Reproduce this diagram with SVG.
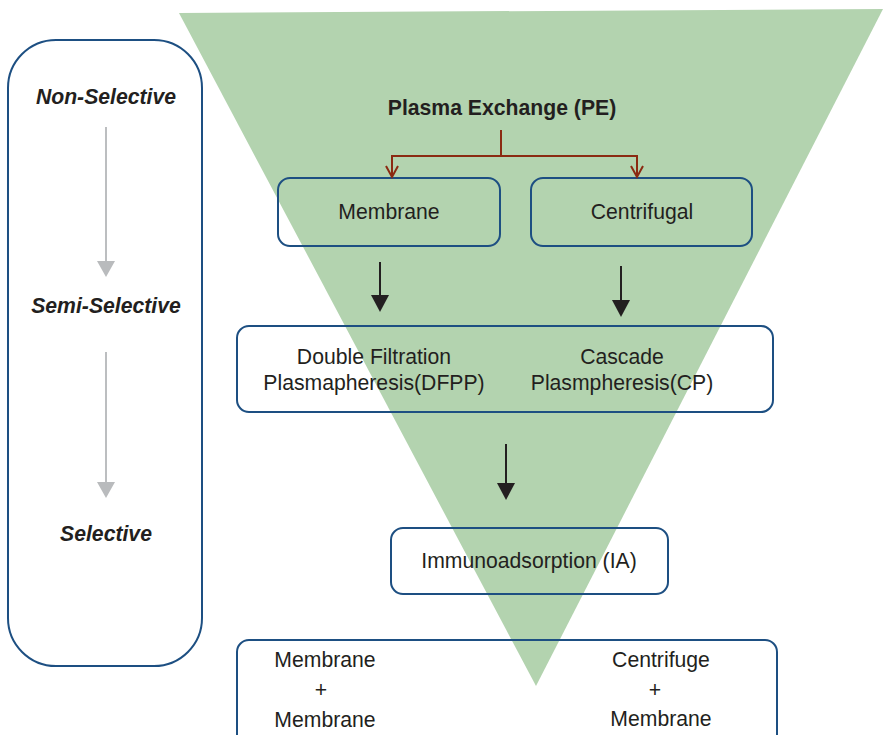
<svg xmlns="http://www.w3.org/2000/svg" width="883" height="735" viewBox="0 0 883 735">
  <defs>
    <style>
      .box { fill: none; stroke: #1d4f82; stroke-width: 2; }
      .lbl { font-family: "Liberation Sans", Arial, sans-serif; font-size: 21.2px; fill: #231f20; text-anchor: middle; }
      .lvl { font-family: "Liberation Sans", Arial, sans-serif; font-size: 21.2px; font-weight: bold; font-style: italic; fill: #231f20; text-anchor: middle; }
      .title { font-family: "Liberation Sans", Arial, sans-serif; font-size: 21.2px; font-weight: bold; fill: #231f20; text-anchor: middle; }
      .blk { stroke: #231f20; stroke-width: 2; fill: none; }
      .gry { stroke: #bcbec0; stroke-width: 2; fill: none; }
      .red { stroke: #8b2a12; stroke-width: 2; fill: none; }
    </style>
  </defs>

  <!-- selectivity funnel -->
  <polygon points="179,13 883,9 536,686" fill="#b3d3af"/>

  <!-- selectivity scale -->
  <g id="scale">
    <rect class="box" x="8" y="40" width="194" height="626" rx="48"/>
    <text class="lvl" x="106" y="104">Non-Selective</text>
    <text class="lvl" x="106" y="313">Semi-Selective</text>
    <text class="lvl" x="106" y="541">Selective</text>
  </g>

  <g id="pe">
    <text class="title" x="502" y="115">Plasma Exchange (PE)</text>
  </g>

  <g id="membrane">
    <rect class="box" x="278" y="178" width="222" height="68" rx="12"/>
    <text class="lbl" x="389" y="219">Membrane</text>
  </g>

  <g id="centrifugal">
    <rect class="box" x="531" y="178" width="221" height="68" rx="12"/>
    <text class="lbl" x="642" y="219">Centrifugal</text>
  </g>

  <g id="semi">
    <rect class="box" x="237" y="326" width="536" height="86" rx="12"/>
    <text class="lbl" x="374" y="364">Double Filtration</text>
    <text class="lbl" x="374" y="390">Plasmapheresis(DFPP)</text>
    <text class="lbl" x="622" y="364">Cascade</text>
    <text class="lbl" x="622" y="390">Plasmpheresis(CP)</text>
  </g>

  <g id="ia">
    <rect class="box" x="391" y="528" width="277" height="66" rx="12"/>
    <text class="lbl" x="529" y="568">Immunoadsorption (IA)</text>
  </g>

  <g id="combined">
    <rect class="box" x="237" y="640" width="540" height="110" rx="12"/>
    <text class="lbl" x="325" y="667">Membrane</text>
    <text class="lbl" x="321" y="697">+</text>
    <text class="lbl" x="325" y="727">Membrane</text>
    <text class="lbl" x="661" y="667">Centrifuge</text>
    <text class="lbl" x="655" y="697">+</text>
    <text class="lbl" x="661" y="726">Membrane</text>
  </g>

  <g id="connectors">
    <!-- PE split -->
    <path class="red" d="M501,130 V156 M392,156 H637 M392,155 V177 M637,155 V177"/>
    <path class="red" d="M386,166 L392,177 L398,166 M631,166 L637,177 L643,166"/>
    <!-- downward flow -->
    <path class="blk" d="M380,262 V296"/>
    <path d="M371,295 L389,295 L380,312 Z" fill="#231f20"/>
    <path class="blk" d="M621,266 V301"/>
    <path d="M612,300 L630,300 L621,317 Z" fill="#231f20"/>
    <path class="blk" d="M506,444 V484"/>
    <path d="M497,483 L515,483 L506,500 Z" fill="#231f20"/>
    <!-- scale arrows -->
    <path class="gry" d="M106,127 V262"/>
    <path d="M97,261 L115,261 L106,277 Z" fill="#b9bbbd"/>
    <path class="gry" d="M106,352 V483"/>
    <path d="M97,482 L115,482 L106,498 Z" fill="#b9bbbd"/>
  </g>
</svg>
